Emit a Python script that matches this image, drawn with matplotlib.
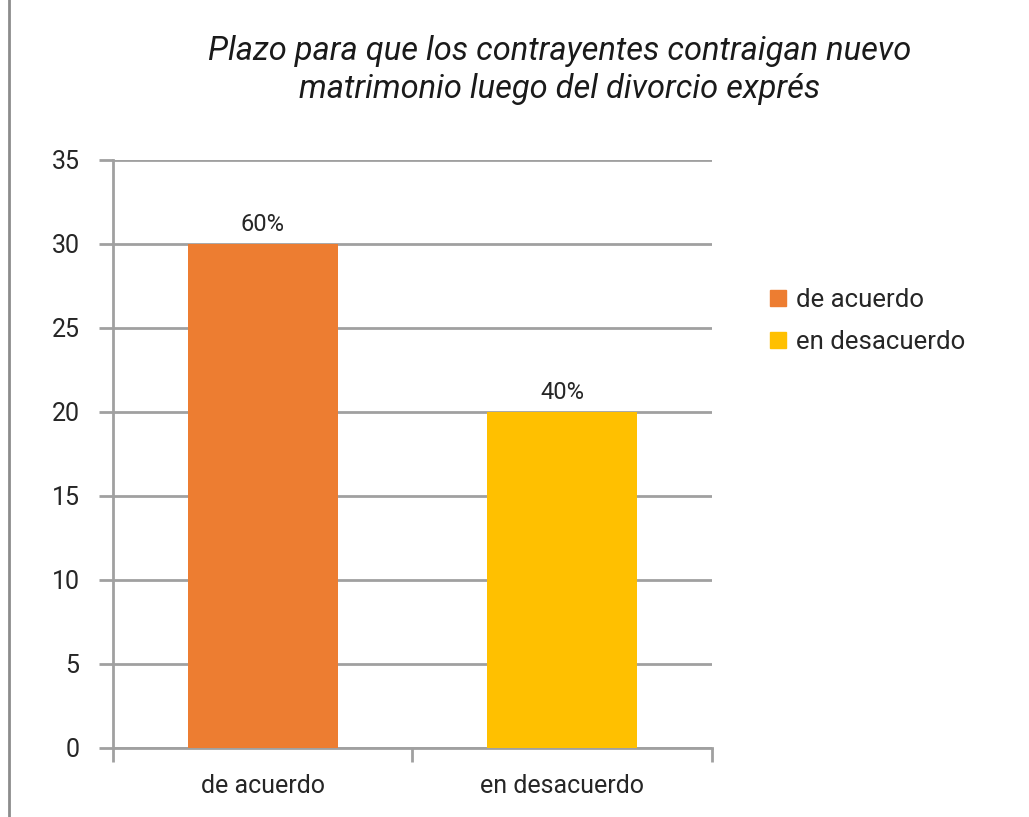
import matplotlib.pyplot as plt
from matplotlib.lines import Line2D
from matplotlib.patches import Patch

plt.rcParams['font.family'] = ['Roboto', 'DejaVu Sans']

# --- datos ---
categorias = ['de acuerdo', 'en desacuerdo']
valores = [30, 20]
etiquetas = ['60%', '40%']
colores = ['#ED7D31', '#FFC000']
titulo = 'Plazo para que los contrayentes contraigan nuevo\nmatrimonio luego del divorcio exprés'

fig = plt.figure(figsize=(10.29, 8.17), dpi=100)
ax = fig.add_axes([0.1098, 0.0845, 0.5821, 0.7197])

gris = '#a0a0a0'
x = range(len(categorias))
barras = ax.bar(x, valores, width=0.5, color=colores, zorder=3)
for b, et in zip(barras, etiquetas):
    ax.annotate(et, (b.get_x() + b.get_width() / 2, b.get_height()),
                xytext=(0, 6), textcoords='offset points',
                ha='center', va='bottom', fontsize=17, color='#262626')

ax.set_xlim(-0.5, len(categorias) - 0.5)
ax.set_ylim(0, 35)
ax.set_yticks(range(0, 36, 5))
ax.yaxis.grid(True, color=gris, linewidth=2, zorder=0)

# ticks del eje x en los límites entre categorías
ax.set_xticks([-0.5, 0.5, 1.5])
ax.set_xticklabels([])
ax.set_xticks(list(x), minor=True)
ax.set_xticklabels(categorias, minor=True)
ax.tick_params(axis='x', which='major', length=10, width=2, color=gris)
ax.tick_params(axis='x', which='minor', length=0, pad=19, labelsize=18, labelcolor='#262626')
ax.tick_params(axis='y', length=10, width=2, color=gris, pad=14, labelsize=18, labelcolor='#262626')

for lado in ['top', 'right']:
    ax.spines[lado].set_visible(False)
for lado in ['left', 'bottom']:
    ax.spines[lado].set_color(gris)
    ax.spines[lado].set_linewidth(2)

handles = [Patch(color=c, label=l) for c, l in zip(colores, categorias)]
fig.legend(handles=handles, loc='upper left', bbox_to_anchor=(0.726, 0.676),
           frameon=False, fontsize=18.5, handlelength=0.6, handleheight=0.6,
           handletextpad=0.4, labelspacing=0.7, labelcolor='#262626')

fig.text(0.544, 0.914, titulo, ha='center', va='center', fontsize=23.5,
         style='italic', color='#1a1a1a', linespacing=1.25)

# línea vertical en el borde izquierdo
fig.add_artist(Line2D([0.0085, 0.0085], [0, 1], transform=fig.transFigure,
                      color='#8c8c8c', linewidth=2))

fig.savefig('out.png', dpi=100, facecolor='white')
